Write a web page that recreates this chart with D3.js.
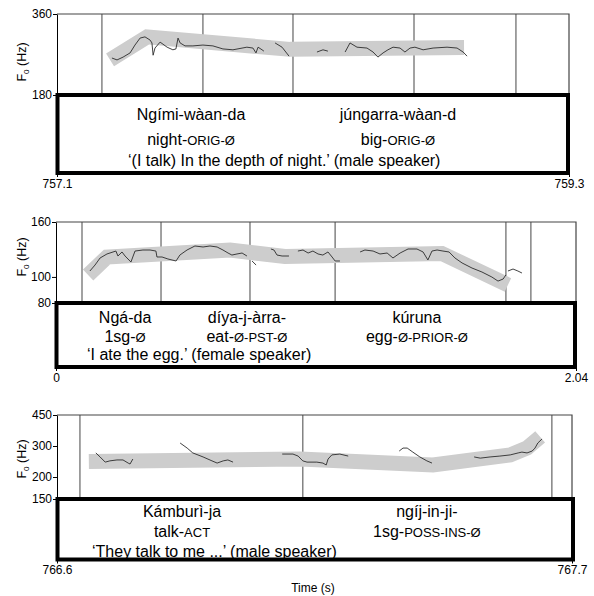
<!DOCTYPE html>
<html>
<head>
<meta charset="utf-8">
<script src="https://cdn.jsdelivr.net/npm/d3@7"></script>
<style>
body { margin: 0; background: #fff; }
svg { display: block; font-family: Arial, "Liberation Sans", Helvetica, sans-serif; }
</style>
</head>
<body>
<svg id="chart" width="594" height="596"></svg>
<script>
// ---- panel 1 : Ngími-wàan-da júngarra-wàan-d (male speaker)
var timeDomain1 = [757.1, 759.3];
var f0Domain1 = [180, 360];
var f0Ticks1 = [180, 360];
var boundaries1 = [757.293, 757.727, 758.114, 758.634, 759.072];
var stylized1 = [[757.328, 243], [757.487, 296], [758.101, 266], [758.849, 270]];
var f0Track1 = [
  [[757.336,247],[757.358,243],[757.384,249],[757.414,258],[757.435,276],[757.457,293],[757.478,296],[757.500,288],[757.508,281],[757.513,253],[757.521,269],[757.543,283],[757.573,271],[757.598,265],[757.611,267],[757.620,293],[757.629,281],[757.650,274],[757.684,274],[757.727,276],[757.770,274],[757.813,267],[757.856,265],[757.916,271],[757.942,269],[757.955,258],[757.964,271],[757.981,265],[757.989,262]],
  [[758.037,281],[758.067,271],[758.097,251]],
  [[758.217,260],[758.243,265],[758.264,262]],
  [[758.338,260],[758.359,281],[758.389,271],[758.432,269],[758.458,260],[758.479,249],[758.501,258],[758.522,265],[758.544,271],[758.574,269],[758.595,260],[758.617,269],[758.638,271],[758.673,265],[758.716,269],[758.776,271],[758.819,269],[758.845,260],[758.862,251]]
];
var words1 = ["Ngími-wàan-da", "júngarra-wàan-d"];
var glosses1 = ["night-{ORIG-Ø}", "big-{ORIG-Ø}"];
var wordTimes1 = [757.676, 758.565];
var translation1 = "‘(I talk) In the depth of night.’ (male speaker)";

// ---- panel 2 : Ngá-da díya-j-àrra- kúruna (female speaker)
var timeDomain2 = [0, 2.04];
var f0Domain2 = [80, 160];
var f0Ticks2 = [80, 100, 160];
var boundaries2 = [0.102, 0.412, 0.761, 1.095, 1.765, 1.863];
var stylized2 = [[0.126, 101.7], [0.200, 118.6], [0.683, 125.9], [0.898, 119.1], [1.514, 122.2], [1.773, 93.4]];
var f0Track2 = [
  [[0.133,105.2],[0.153,110.7],[0.173,117.6],[0.200,121.7],[0.235,124.8],[0.243,119.6],[0.259,123.8],[0.271,119.6],[0.294,113.6],[0.310,124.8],[0.341,125.9],[0.369,125.9],[0.392,124.8],[0.396,118.6],[0.416,118.6],[0.439,116.6],[0.471,114.6],[0.486,120.6],[0.514,125.9],[0.545,130.3],[0.577,129.2],[0.604,130.3],[0.632,129.2],[0.655,125.9],[0.675,122.7],[0.690,120.6],[0.710,121.7],[0.730,122.7],[0.749,119.6]],
  [[0.769,114.6],[0.785,110.7]],
  [[0.843,127.0],[0.855,125.9],[0.867,120.6],[0.887,119.6],[0.914,119.6]],
  [[0.949,124.8],[0.969,125.9],[0.989,122.7],[1.008,124.8],[1.028,121.7],[1.047,120.6],[1.067,123.8],[1.083,118.6],[1.095,114.6],[1.114,114.6]],
  [[1.193,123.8],[1.212,125.9],[1.244,124.8],[1.271,121.7],[1.299,122.7],[1.322,117.6],[1.350,122.7],[1.381,127.0],[1.416,127.0],[1.440,123.8],[1.459,115.6],[1.475,124.8],[1.495,125.9],[1.518,124.8],[1.542,123.8],[1.565,117.6],[1.593,112.7],[1.632,107.9],[1.671,104.3],[1.710,99.9],[1.734,96.5],[1.754,98.2],[1.765,101.7]],
  [[1.773,105.2],[1.793,107.0],[1.812,105.2],[1.828,103.4]]
];
var words2 = ["Ngá-da", "díya-j-àrra-", "kúruna"];
var glosses2 = ["1sg-{Ø}", "eat-{Ø-PST-Ø}", "egg-{Ø-PRIOR-Ø}"];
var wordTimes2 = [0.271, 0.749, 1.416];
var translation2 = "‘I ate the egg.’ (female speaker)";

// ---- panel 3 : Kámburì-ja ngíj-in-ji- (male speaker)
var timeDomain3 = [766.6, 767.7];
var f0Domain3 = [150, 450];
var f0Ticks3 = [150, 200, 300, 450];
var boundaries3 = [766.649, 767.125, 767.657];
var stylized3 = [[766.668, 245], [767.119, 253], [767.403, 234], [767.568, 267], [767.604, 292], [767.632, 338]];
var f0Track3 = [
  [[766.683,274],[766.692,260],[766.703,243],[766.713,247],[766.728,250],[766.741,250],[766.752,240],[766.756,237],[766.762,253]],
  [[766.863,312],[766.878,292],[766.890,274],[766.912,260],[766.931,247],[766.942,240],[766.955,247],[766.965,250],[766.976,243]],
  [[767.081,270],[767.104,270],[767.115,263],[767.125,247],[767.134,243],[767.155,243],[767.168,240],[767.175,234],[767.179,253],[767.187,267],[767.204,270],[767.222,263]],
  [[767.331,281],[767.339,292],[767.348,292],[767.360,277],[767.375,260],[767.390,247],[767.401,240]],
  [[767.491,260],[767.504,256],[767.525,260],[767.546,263],[767.568,267],[767.585,274],[767.593,277],[767.604,274],[767.615,281],[767.621,292],[767.627,312],[767.636,329]]
];
var words3 = ["Kámburì-ja", "ngíj-in-ji-"];
var glosses3 = ["talk-{ACT}", "1sg-{POSS-INS-Ø}"];
var wordTimes3 = [766.867, 767.390];
var translation3 = "‘They talk to me ...’ (male speaker)";

var svg = d3.select("#chart");

var panels = [
  {time: timeDomain1, f0: f0Domain1, ticks: f0Ticks1, bounds: boundaries1, band: stylized1, track: f0Track1,
   words: words1, glosses: glosses1, wt: wordTimes1, trans: translation1,
   x0: 57, x1: 569, top: 14, base: 95, boxBottom: 173, boxRight: 568, lines: [25, 50, 71], transX: 128, labelY: 62},
  {time: timeDomain2, f0: f0Domain2, ticks: f0Ticks2, bounds: boundaries2, band: stylized2, track: f0Track2,
   words: words2, glosses: glosses2, wt: wordTimes2, trans: translation2,
   x0: 56, x1: 576, top: 222, base: 303, boxBottom: 367, boxRight: 575, lines: [20, 39, 57], transX: 87, labelY: 257},
  {time: timeDomain3, f0: f0Domain3, ticks: f0Ticks3, bounds: boundaries3, band: stylized3, track: f0Track3,
   words: words3, glosses: glosses3, wt: wordTimes3, trans: translation3,
   x0: 57, x1: 572, top: 415, base: 499, boxBottom: 559.5, boxRight: 573, lines: [18, 38, 58], transX: 92, labelY: 459}
];

function addGloss(sel, str){
  str.split(/[{}]/).forEach(function(part, i){
    if(!part) return;
    sel.append("tspan").attr("font-size", i % 2 ? 13 : 16).text(part);
  });
}

panels.forEach(function(p){
  var g = svg.append("g");
  var x = d3.scaleLinear().domain(p.time).range([p.x0, p.x1]);
  var y = d3.scaleLog().domain(p.f0).range([p.base, p.top]);

  // segment boundaries
  g.selectAll(".bound").data(p.bounds).enter().append("line")
    .attr("x1", function(d){ return x(d); }).attr("x2", function(d){ return x(d); })
    .attr("y1", p.top).attr("y2", p.base)
    .attr("stroke", "#707070").attr("stroke-width", 1.3);

  // frame (top + right)
  g.append("path")
    .attr("d", "M" + p.x0 + "," + p.top + "H" + p.x1 + "V" + p.base)
    .attr("fill", "none").attr("stroke", "#444").attr("stroke-width", 1.2);

  var line = d3.line().x(function(d){ return x(d[0]); }).y(function(d){ return y(d[1]); });

  // stylised contour
  g.append("path").datum(p.band)
    .attr("d", line)
    .attr("fill", "none").attr("stroke", "#cdcdcd").attr("stroke-width", 15)
    .attr("stroke-linejoin", "miter");

  // measured F0
  g.selectAll(".f0").data(p.track).enter().append("path")
    .attr("d", line)
    .attr("fill", "none").attr("stroke", "#2b2b2b").attr("stroke-width", 0.9);

  // y axis
  var ya = g.append("g").attr("transform", "translate(" + p.x0 + ",0)")
    .call(d3.axisLeft(y).tickValues(p.ticks).tickFormat(d3.format("d")).tickSize(4).tickSizeOuter(0).tickPadding(1));
  ya.select(".domain").attr("stroke", "#000");
  ya.selectAll("text").attr("font-size", 12).attr("font-family", null).attr("fill", "#000");

  g.append("text")
    .attr("transform", "translate(26," + p.labelY + ") rotate(-90)")
    .attr("text-anchor", "middle").attr("font-size", 12.5)
    .call(function(t){
      t.append("tspan").text("F");
      t.append("tspan").attr("font-size", 8).attr("dy", 3).text("0");
      t.append("tspan").attr("dy", -3).text(" (Hz)");
    });

  // annotation box
  g.append("rect")
    .attr("x", p.x0 + 0.5).attr("y", p.base)
    .attr("width", p.boxRight - p.x0 - 0.5).attr("height", p.boxBottom - p.base)
    .attr("fill", "none").attr("stroke", "#000").attr("stroke-width", 4);

  p.words.forEach(function(w, i){
    g.append("text").attr("x", x(p.wt[i])).attr("y", p.base + p.lines[0])
      .attr("text-anchor", "middle").attr("font-size", 16).text(w);
    addGloss(g.append("text").attr("x", x(p.wt[i])).attr("y", p.base + p.lines[1])
      .attr("text-anchor", "middle"), p.glosses[i]);
  });
  g.append("text").attr("x", p.transX).attr("y", p.base + p.lines[2])
    .attr("font-size", 16).text(p.trans);

  // time axis
  var xa = g.append("g").attr("transform", "translate(0," + p.boxBottom + ")")
    .call(d3.axisBottom(x).tickValues(p.time).tickFormat(d3.format("")).tickSize(4).tickSizeOuter(0).tickPadding(2));
  xa.select(".domain").remove();
  xa.selectAll("text").attr("font-size", 12).attr("font-family", null).attr("fill", "#000");
});

svg.append("text").attr("x", 313).attr("y", 592)
  .attr("text-anchor", "middle").attr("font-size", 12).text("Time (s)");
</script>
</body>
</html>
